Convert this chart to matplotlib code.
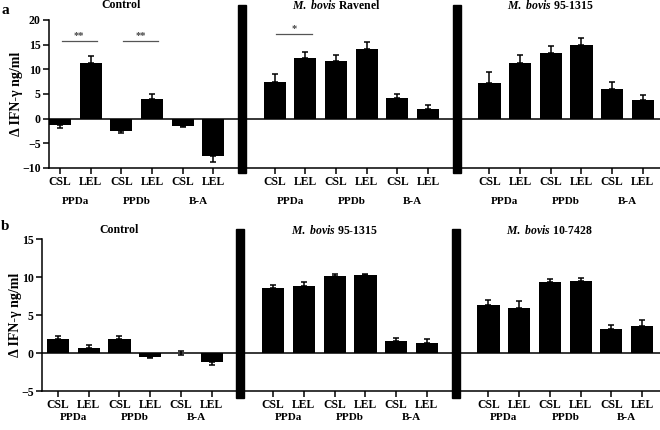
import matplotlib
matplotlib.use('Agg')
import matplotlib.pyplot as plt
import numpy as np
from matplotlib.transforms import blended_transform_factory
from matplotlib.patches import Rectangle

plt.rcParams['font.family'] = ['Liberation Serif', 'DejaVu Serif']
plt.rcParams['font.weight'] = 'bold'
plt.rcParams['mathtext.fontset'] = 'custom'
plt.rcParams['mathtext.it'] = 'Liberation Serif:italic:bold'
plt.rcParams['mathtext.rm'] = 'Liberation Serif:bold'

# ---- data ----
bar_labels = ['CSL', 'LEL'] * 3
groups = ['PPDa', 'PPDb', 'B-A']

a_titles = ['Control', r'$\mathit{M.\ bovis}$ Ravenel', r'$\mathit{M.\ bovis}$ 95-1315']
a_control = [-1.2, 11.3, -2.5, 3.9, -1.4, -7.5]
a_control_err = [0.6, 1.5, 0.4, 1.1, 0.2, 1.2]
a_ravenel = [7.4, 12.2, 11.6, 14.2, 4.2, 2.0]
a_ravenel_err = [1.7, 1.4, 1.4, 1.4, 0.9, 0.8]
a_951315 = [7.3, 11.2, 13.4, 14.9, 6.0, 3.8]
a_951315_err = [2.2, 1.8, 1.4, 1.4, 1.4, 0.9]

b_titles = ['Control', r'$\mathit{M.\ bovis}$ 95-1315', r'$\mathit{M.\ bovis}$ 10-7428']
b_control = [1.8, 0.6, 1.8, -0.5, 0.0, -1.2]
b_control_err = [0.5, 0.5, 0.5, 0.1, 0.3, 0.4]
b_951315 = [8.5, 8.8, 10.1, 10.2, 1.6, 1.3]
b_951315_err = [0.5, 0.5, 0.3, 0.2, 0.4, 0.5]
b_107428 = [6.3, 5.9, 9.4, 9.5, 3.1, 3.6]
b_107428_err = [0.7, 0.9, 0.4, 0.4, 0.6, 0.7]

# significance: (section, first bar, second bar, stars, y)
a_sig = [(0, 0, 1, '**', 15.8), (0, 2, 3, '**', 15.8), (1, 0, 1, '*', 17.2)]

ylabel = 'Δ IFN-γ ng/ml'
offsets = [0, 7, 14]

fig = plt.figure(figsize=(6.6, 4.3), dpi=100)


def draw_panel(ax, series, errs, titles, ylim, yticks, xlim, sep_top, sep_bot,
               title_y, group_y, sigs, letter, letter_pos):
    xs_all = []
    for off, vals, err in zip(offsets, series, errs):
        x = np.arange(len(vals)) + off
        xs_all.extend(x)
        vals = np.array(vals)
        err = np.array(err)
        ax.bar(x, vals, width=0.72, color='black', zorder=2)
        lower = np.where(vals < -0.05, err, 0.0)
        upper = np.where(vals > -0.05, err, 0.0)
        sym = np.abs(vals) <= 0.05
        lower[sym] = err[sym]
        ax.errorbar(x, vals, yerr=[lower, upper], fmt='none', ecolor='black',
                    elinewidth=1.1, capsize=2.5, capthick=1.1, zorder=3)
    ax.axhline(0, color='black', lw=1.1, zorder=1)
    ax.set_xlim(*xlim)
    ax.set_ylim(*ylim)
    ax.set_yticks(yticks)
    ax.set_xticks(xs_all)
    ax.set_xticklabels(bar_labels * 3, fontsize=8.5, fontweight='bold')
    ax.tick_params(axis='x', length=4, width=1.1, pad=2)
    ax.tick_params(axis='y', length=4, width=1.1, pad=2, labelsize=8.5)
    for s in ['top', 'right']:
        ax.spines[s].set_visible(False)
    for s in ['left', 'bottom']:
        ax.spines[s].set_linewidth(1.1)
    ax.set_ylabel(ylabel, fontsize=10, fontweight='bold', labelpad=-0.5)
    tr = blended_transform_factory(ax.transData, ax.transAxes)
    for off, t in zip(offsets, titles):
        ax.text(off + 2.0, title_y, t, transform=tr, ha='center', va='center',
                fontsize=8.5, fontweight='bold')
        for gi, g in enumerate(groups):
            ax.text(off + 2 * gi + 0.5, group_y, g, transform=tr, ha='center',
                    va='center', fontsize=8, fontweight='bold')
    for sx in [5.93, 12.95]:
        ax.add_patch(Rectangle((sx - 0.13, sep_bot), 0.26, sep_top - sep_bot,
                               transform=tr, color='black', clip_on=False, zorder=4))
    for sec, i1, i2, st, yv in sigs:
        x1 = offsets[sec] + i1 + 0.05
        x2 = offsets[sec] + i2 + 0.2
        ax.plot([x1, x2], [yv, yv], color='#555555', lw=0.9)
        ax.text((x1 + x2) / 2, yv + 0.1, st, ha='center', va='bottom',
                fontsize=7.5, color='#444444')
    fig.text(letter_pos[0], letter_pos[1], letter, fontsize=11, fontweight='bold',
             ha='left', va='center')


ax_a = fig.add_axes([49 / 660, 1 - 168 / 430, 611 / 660, 148 / 430])
draw_panel(ax_a, [a_control, a_ravenel, a_951315],
           [a_control_err, a_ravenel_err, a_951315_err], a_titles,
           (-10, 20), [-10, -5, 0, 5, 10, 15, 20], (-0.36, 19.56),
           1.101, -0.034, 1.101, -0.223, a_sig, 'a', (0.002, 1 - 11 / 430))

ax_b = fig.add_axes([42 / 660, 1 - 391 / 430, 618 / 660, 152 / 430])
draw_panel(ax_b, [b_control, b_951315, b_107428],
           [b_control_err, b_951315_err, b_107428_err], b_titles,
           (-5, 15), [-5, 0, 5, 10, 15], (-0.52, 19.58),
           1.066, -0.046, 1.059, -0.174, [], 'b', (0.002, 1 - 226 / 430))

fig.savefig('out.png', dpi=100)
